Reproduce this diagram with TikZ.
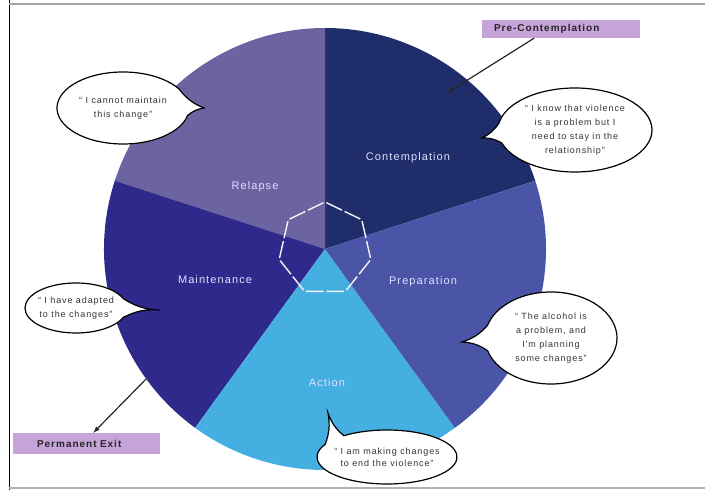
\documentclass[tikz,border=0pt]{standalone}
\usepackage{fontspec}
\setmainfont{Liberation Sans}
\newfontfamily\wide[LetterSpace=10]{Liberation Sans}
\usetikzlibrary{shapes.geometric,calc}
\definecolor{boxpurple}{HTML}{C6A3D8}
\tikzset{
  bubble/.style={draw=black, fill=white, line width=1.2pt},
  saying/.style={align=center, font=\wide\fontsize{9}{14}\selectfont, text=black!80, inner sep=0pt},
  stage/.style={font=\wide\fontsize{11}{13}\selectfont, text=white!88!blue, inner sep=0pt},
  exitbox/.style={fill=boxpurple, inner sep=0pt, align=left, font=\wide\bfseries\fontsize{10}{12}\selectfont, text=black!85},
  pointer/.style={-latex, line width=1.2pt, black!85}
}
\begin{document}
\begin{tikzpicture}[x=1pt,y=1pt]
\useasboundingbox (0,0) rectangle (705,490);
\pgfmathsetmacro\R{221}
\coordinate (hub) at (325,241);
\definecolor{contemplation}{HTML}{1F2E6B}
\definecolor{relapse}{HTML}{6C63A1}
\definecolor{maintenance}{HTML}{30298C}
\definecolor{action}{HTML}{45AFE2}
\definecolor{preparation}{HTML}{4B55A8}
\foreach \a/\c in {18/contemplation,90/relapse,162/maintenance,234/action,306/preparation}
  \fill[\c] (hub) -- ++(\a:\R pt) arc[start angle=\a, end angle=\a+72, radius=\R pt] -- cycle;
\node[regular polygon, regular polygon sides=7, minimum size=94pt, inner sep=0pt, draw=white!92!gray, line width=1.4pt, dash pattern=on 17.4pt off 3pt, dash phase=18.9pt] (hept) at (hub) {};
\node[stage] (relapse-l) at (255,303) {Relapse};
\node[stage] (contemplation-l) at (408,332) {Contemplation};
\node[stage] (preparation-l) at (423,208) {Preparation};
\node[stage] (action-l) at (327,107) {Action};
\node[stage] (maintenance-l) at (215,210) {Maintenance};
% speech bubbles
\coordinate (relapse-c) at (123,382);
\coordinate (relapse-tip) at (204,382);
\draw[bubble] ($(relapse-c)+(32:66pt and 36pt)$) arc[start angle=32, end angle=348, x radius=66pt, y radius=36pt] to[bend left=15] (relapse-tip) to[bend left=15] cycle;
\node[saying] (relapse-q) at (relapse-c) {“ I cannot maintain\\this change”};
\coordinate (contemplation-c) at (575,360);
\coordinate (contemplation-tip) at (482,352);
\draw[bubble] ($(contemplation-c)+(198:77pt and 42pt)$) arc[start angle=198, end angle=530, x radius=77pt, y radius=42pt] to[bend left=15] (contemplation-tip) to[bend left=15] cycle;
\node[saying] (contemplation-q) at (contemplation-c) {“ I know that violence\\is a problem but I\\need to stay in the\\relationship”};
\coordinate (preparation-c) at (551,152);
\coordinate (preparation-tip) at (462,148);
\draw[bubble] ($(preparation-c)+(196:66pt and 46pt)$) arc[start angle=196, end angle=524, x radius=66pt, y radius=46pt] to[bend left=15] (preparation-tip) to[bend left=15] cycle;
\node[saying] (preparation-q) at (preparation-c) {“ The alcohol is\\a problem, and\\I'm planning\\some changes”};
\coordinate (action-c) at (387,33);
\coordinate (action-tip) at (328,77);
\draw[bubble] ($(action-c)+(152:70pt and 27pt)$) arc[start angle=152, end angle=488, x radius=70pt, y radius=27pt] to[bend left=15] (action-tip) to[bend left=15] cycle;
\node[saying, font=\wide\fontsize{9}{12}\selectfont] (action-q) at (action-c) {“ I am making changes\\to end the violence”};
\coordinate (maintenance-c) at (76,182);
\coordinate (maintenance-tip) at (160,180);
\draw[bubble] ($(maintenance-c)+(22:51pt and 25pt)$) arc[start angle=22, end angle=338, x radius=51pt, y radius=25pt] to[bend left=15] (maintenance-tip) to[bend left=15] cycle;
\node[saying] (maintenance-q) at (maintenance-c) {“ I have adapted\\to the changes”};
% exits
\node[exitbox, text width=134pt, inner xsep=12pt, minimum height=18pt] (precon) at (561,461) {Pre-Contemplation};
\node[exitbox, text width=99pt, inner xsep=24pt, minimum height=21pt] (exit) at (86.5,46.5) {Permanent Exit};
\coordinate (precon-end) at ($(hub)+(52:198pt)$);
\coordinate (exit-start) at ($(hub)+(216:\R pt)$);
\draw[pointer] ($(precon.south west)!0.33!(precon.south east)$) -- (precon-end);
\draw[pointer] (exit-start) -- ($(exit.north west)!0.546!(exit.north east)$);
% frame
\draw[black, line width=1pt] (9,0) -- (9,490);
\draw[gray!70, line width=2pt] (9,486) -- (705,486);
\draw[gray!60, line width=1.5pt] (9,2) -- (705,2);
\end{tikzpicture}
\end{document}
